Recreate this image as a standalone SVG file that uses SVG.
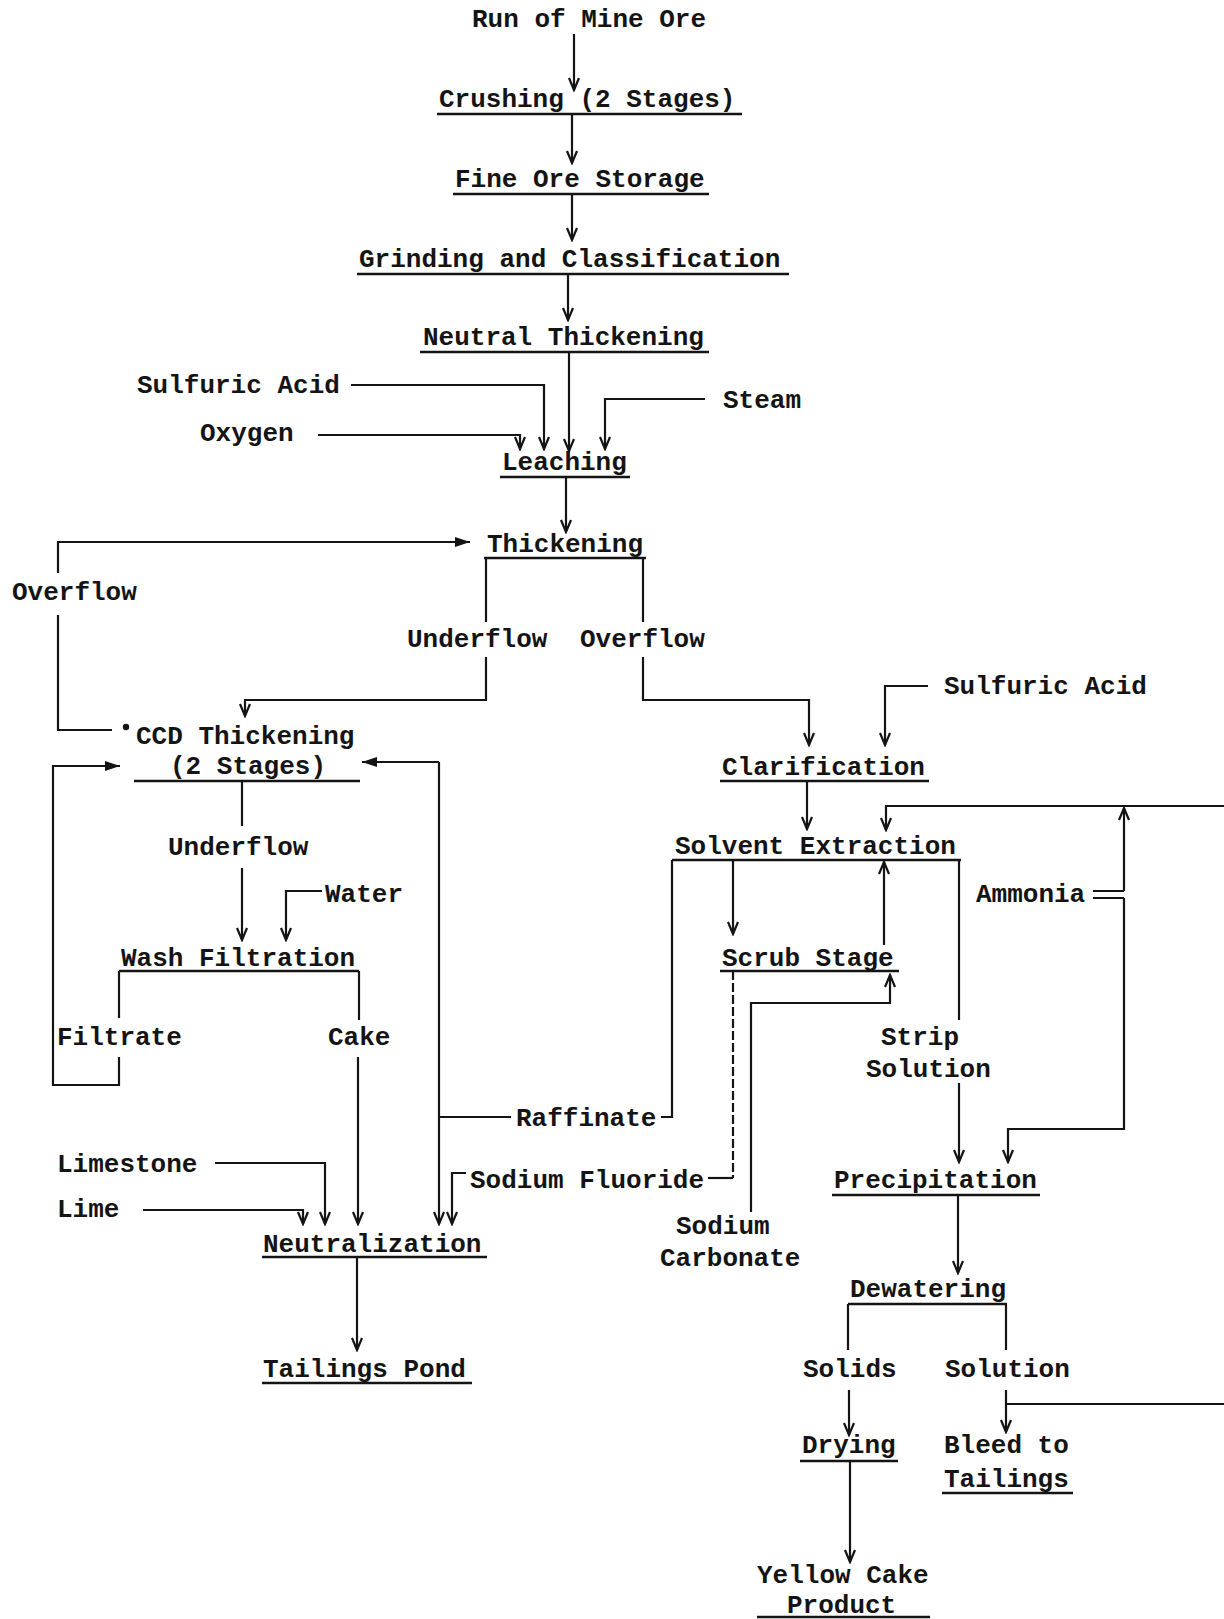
<svg xmlns="http://www.w3.org/2000/svg" width="1224" height="1619" viewBox="0 0 1224 1619">
<style>
text{font-family:"Liberation Mono","DejaVu Sans Mono",monospace;font-size:26px;font-weight:bold;fill:#141414}
.ul{stroke:#141414;stroke-width:2.6;fill:none}
.c{stroke:#141414;stroke-width:2.2;fill:none}
.a{marker-end:url(#open)}
.f{marker-end:url(#filled)}
.d{stroke-dasharray:9 3}
</style>
<defs>
<marker id="open" markerUnits="userSpaceOnUse" viewBox="-14 -8 16 16" refX="0" refY="0" markerWidth="16" markerHeight="16" orient="auto">
<path d="M-12,-5 L0,0 L-12,5" fill="none" stroke="#141414" stroke-width="2.2"/>
</marker>
<marker id="filled" markerUnits="userSpaceOnUse" viewBox="-16 -8 18 16" refX="0" refY="0" markerWidth="18" markerHeight="16" orient="auto">
<path d="M-15,-5 L0,0 L-15,5 Z" fill="#141414"/>
</marker>
</defs>
<rect width="1224" height="1619" fill="#fff"/>

<g id="connectors">
<path class="c a" d="M574,34 V90"/>
<path class="c a" d="M572,114 V163"/>
<path class="c a" d="M572,194 V240"/>
<path class="c a" d="M568,274 V320"/>
<path class="c a" d="M569,352 V451"/>
<path class="c a" d="M351,385 H544 V449"/>
<path class="c a" d="M318,435 H520 V449"/>
<path class="c a" d="M705,399 H605 V449"/>
<path class="c a" d="M566,477 V532"/>
<path class="c f" d="M58,573 V542 H470"/>
<path class="c" d="M58,615 V730 H112"/>
<circle cx="126" cy="727" r="3.2" fill="#141414"/>
<path class="c" d="M486,558 V622"/>
<path class="c a" d="M486,657 V700 H245 V716"/>
<path class="c" d="M643,558 V622"/>
<path class="c a" d="M643,657 V700 H809 V745"/>
<path class="c a" d="M928,686 H885 V745"/>
<path class="c a" d="M807,781 V829"/>
<path class="c a" d="M1224,806 H886 V830"/>
<path class="c a" d="M1124,891 V808"/>
<path class="c" d="M1093,891 H1124 M1093,898 H1124"/>
<path class="c a" d="M1124,898 V1129 H1008 V1162"/>
<path class="c" d="M672,860 V1117 H661"/>
<path class="c" d="M511,1117 H439"/>
<path class="c a" d="M439,762 V1224"/>
<path class="c f" d="M439,762 H362"/>
<path class="c a" d="M733,860 V934"/>
<path class="c a" d="M884,945 V862"/>
<path class="c d" d="M733,971 V1178"/>
<path class="c" d="M733,1178 H708"/>
<path class="c a" d="M466,1173 H452 V1224"/>
<path class="c a" d="M751,1212 V1003 H890 V975"/>
<path class="c" d="M959,860 V1020"/>
<path class="c a" d="M959,1083 V1162"/>
<path class="c" d="M242,781 V826"/>
<path class="c a" d="M242,868 V940"/>
<path class="c a" d="M322,891 H286 V940"/>
<path class="c" d="M119,971 V1018"/>
<path class="c f" d="M119,1057 V1085 H53 V766 H120"/>
<path class="c" d="M359,971 V1020"/>
<path class="c a" d="M358,1057 V1224"/>
<path class="c a" d="M215,1163 H325 V1224"/>
<path class="c a" d="M143,1210 H303 V1224"/>
<path class="c a" d="M357,1257 V1350"/>
<path class="c a" d="M958,1195 V1273"/>
<path class="c" d="M848,1304 V1350"/>
<path class="c a" d="M849,1390 V1435"/>
<path class="c" d="M1006,1304 V1350"/>
<path class="c a" d="M1006,1390 V1432"/>
<path class="c" d="M1006,1404 H1224"/>
<path class="c a" d="M850,1461 V1562"/>
</g>

<g id="run"><text x="472" y="27">Run of Mine Ore</text></g>
<g id="crushing"><text x="439" y="107">Crushing (2 Stages)</text><path class="ul" d="M437,114 H742"/></g>
<g id="fine-ore"><text x="455" y="187">Fine Ore Storage</text><path class="ul" d="M453,194 H709"/></g>
<g id="grinding"><text x="359" y="267">Grinding and Classification</text><path class="ul" d="M357,274 H789"/></g>
<g id="neutral-thickening"><text x="423" y="345">Neutral Thickening</text><path class="ul" d="M420,352 H709"/></g>
<g id="sulfuric-acid-1"><text x="137" y="393">Sulfuric Acid</text></g>
<g id="oxygen"><text x="200" y="441">Oxygen</text></g>
<g id="steam"><text x="723" y="408">Steam</text></g>
<g id="leaching"><text x="502" y="470">Leaching</text><path class="ul" d="M500,477 H630"/></g>
<g id="thickening"><text x="487" y="552">Thickening</text><path class="ul" d="M484,558 H646"/></g>
<g id="overflow-1"><text x="12" y="600">Overflow</text></g>
<g id="underflow-1"><text x="407" y="647">Underflow</text></g>
<g id="overflow-2"><text x="580" y="647">Overflow</text></g>
<g id="ccd"><text x="136" y="744">CCD Thickening</text><text x="170" y="774">(2 Stages)</text><path class="ul" d="M134,781 H360"/></g>
<g id="sulfuric-acid-2"><text x="944" y="694">Sulfuric Acid</text></g>
<g id="clarification"><text x="722" y="775">Clarification</text><path class="ul" d="M720,781 H929"/></g>
<g id="solvent-extraction"><text x="675" y="854">Solvent Extraction</text><path class="ul" d="M672,860 H961"/></g>
<g id="underflow-2"><text x="168" y="855">Underflow</text></g>
<g id="water"><text x="325" y="902">Water</text></g>
<g id="ammonia"><text x="976" y="902">Ammonia</text></g>
<g id="wash-filtration"><text x="121" y="966">Wash Filtration</text><path class="ul" d="M119,971 H359"/></g>
<g id="scrub-stage"><text x="722" y="966">Scrub Stage</text><path class="ul" d="M720,971 H899"/></g>
<g id="filtrate"><text x="57" y="1045">Filtrate</text></g>
<g id="cake"><text x="328" y="1045">Cake</text></g>
<g id="strip-solution"><text x="881" y="1045">Strip</text><text x="866" y="1077">Solution</text></g>
<g id="raffinate"><text x="516" y="1126">Raffinate</text></g>
<g id="sodium-fluoride"><text x="470" y="1188">Sodium Fluoride</text></g>
<g id="precipitation"><text x="834" y="1188">Precipitation</text><path class="ul" d="M832,1195 H1040"/></g>
<g id="limestone"><text x="57" y="1172">Limestone</text></g>
<g id="lime"><text x="57" y="1217">Lime</text></g>
<g id="sodium-carbonate"><text x="676" y="1234">Sodium</text><text x="660" y="1266">Carbonate</text></g>
<g id="neutralization"><text x="263" y="1252">Neutralization</text><path class="ul" d="M262,1257 H487"/></g>
<g id="dewatering"><text x="850" y="1297">Dewatering</text><path class="ul" d="M848,1304 H1007"/></g>
<g id="tailings-pond"><text x="263" y="1377">Tailings Pond</text><path class="ul" d="M262,1383 H472"/></g>
<g id="solids"><text x="803" y="1377">Solids</text></g>
<g id="solution"><text x="945" y="1377">Solution</text></g>
<g id="drying"><text x="802" y="1453">Drying</text><path class="ul" d="M800,1461 H898"/></g>
<g id="bleed"><text x="944" y="1453">Bleed to</text><text x="944" y="1487">Tailings</text><path class="ul" d="M942,1493 H1073"/></g>
<g id="yellow-cake"><text x="757" y="1583">Yellow Cake</text><text x="787" y="1613">Product</text><path class="ul" d="M757,1617 H930"/></g>
</svg>
